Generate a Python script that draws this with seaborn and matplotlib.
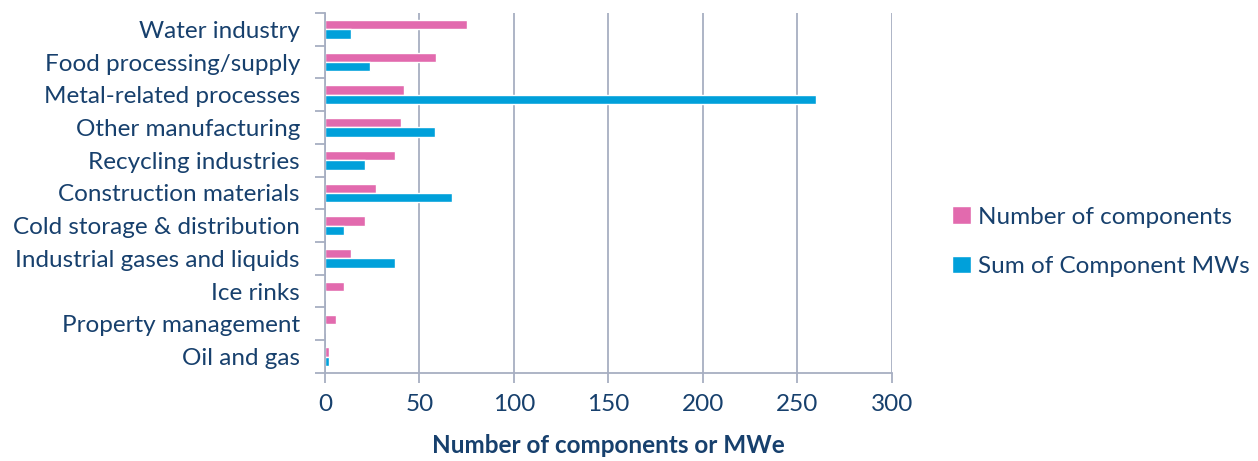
import numpy as np
import pandas as pd
import matplotlib
matplotlib.use("Agg")
import matplotlib.pyplot as plt
import seaborn as sns

categories = [
    "Water industry",
    "Food processing/supply",
    "Metal-related processes",
    "Other manufacturing",
    "Recycling industries",
    "Construction materials",
    "Cold storage & distribution",
    "Industrial gases and liquids",
    "Ice rinks",
    "Property management",
    "Oil and gas",
]
num_components = [75, 59, 42, 40, 37, 27, 21, 14, 10, 6, 2]
sum_mw = [14, 24, 260, 58, 21, 67, 10, 37, 0.5, 0.5, 2]
series_names = ["Number of components", "Sum of Component MWs"]
x_ticks = [0, 50, 100, 150, 200, 250, 300]

PINK = "#E26AAE"
BLUE = "#00A0DA"
TEXT = "#17406D"
GRID = "#A7AFC2"
FS = 17.5

df = pd.DataFrame({
    "category": categories * 2,
    "value": num_components + sum_mw,
    "series": [series_names[0]] * len(categories) + [series_names[1]] * len(categories),
})

sns.set_theme(style="white")
plt.rcParams["font.family"] = ["Lato", "DejaVu Sans"]

fig = plt.figure(figsize=(12.58, 4.61), dpi=100)
ax = fig.add_axes([0.2583, 0.191, 0.4507, 0.781])

sns.barplot(
    data=df, x="value", y="category", hue="series", orient="h",
    order=categories, hue_order=series_names,
    palette=[PINK, BLUE], width=0.57, gap=0, ax=ax, legend=True,
    saturation=1,
)

ax.set_xlim(0, 300)
ax.set_ylim(len(categories) - 0.5, -0.5)
ax.set_xticks(x_ticks)
ax.set_xticklabels([str(t) for t in x_ticks], color=TEXT, fontsize=FS)
ax.set_yticks(range(len(categories)))
ax.set_yticklabels(categories, color=TEXT, fontsize=FS)
ax.set_yticks(np.arange(-0.5, len(categories), 1.0), minor=True)
ax.tick_params(axis="y", which="major", length=0, pad=18)
ax.tick_params(axis="y", which="minor", length=7, width=1.3, color=GRID, left=True)
ax.tick_params(axis="x", which="major", length=7, width=1.3, color=GRID, bottom=True, pad=8)

ax.grid(axis="x", color=GRID, linewidth=1.3)
ax.grid(axis="y", visible=False)
ax.set_axisbelow(True)
for side in ["top", "right"]:
    ax.spines[side].set_visible(False)
for side in ["left", "bottom"]:
    ax.spines[side].set_color(GRID)
    ax.spines[side].set_linewidth(1.3)

ax.set_ylabel("")
ax.set_xlabel("Number of components or MWe", color=TEXT, fontsize=FS,
              fontweight="bold", labelpad=14)

handles, labels = ax.get_legend_handles_labels()
ax.legend(handles, labels, loc="center left", bbox_to_anchor=(1.068, 0.365),
          frameon=False, fontsize=FS, labelcolor=TEXT, handlelength=0.75,
          handleheight=0.75, handletextpad=0.3, labelspacing=1.15)

fig.savefig("out.png", dpi=100)
